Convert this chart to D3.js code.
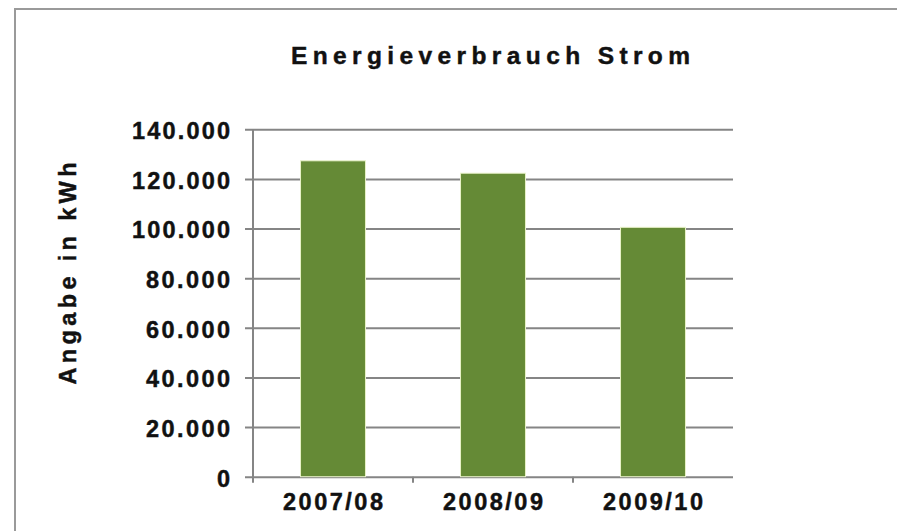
<!DOCTYPE html>
<html>
<head>
<meta charset="utf-8">
<script src="https://cdn.jsdelivr.net/npm/d3@7"></script>
<style>
  html, body { margin: 0; padding: 0; background: #fff; }
  svg { display: block; }
  text {
    font-family: "Liberation Sans", Arial, sans-serif; font-weight: bold;
    fill: #111; stroke: #111; stroke-width: 0.45px;
  }
</style>
</head>
<body>
<script>
// Energieverbrauch Strom — simple column chart, German number format.
const categories = ['2007/08', '2008/09', '2009/10'];
const values = [127300, 122300, 100500];
const yTicks = [0, 20000, 40000, 60000, 80000, 100000, 120000, 140000];
const title = 'Energieverbrauch Strom';
const yTitle = 'Angabe in kWh';

const W = 897, H = 531;
const plot = { left: 253, right: 733, top: 129.3, bottom: 476.7 };

const de = d3.formatLocale({ decimal: ',', thousands: '.', grouping: [3], currency: ['', ' €'] });
const fmt = de.format(',d');

const svg = d3.select('body').append('svg')
  .attr('width', W).attr('height', H);

// outer frame (only top and left edge are inside the picture)
svg.append('rect')
  .attr('x', 15).attr('y', 9)
  .attr('width', 1000).attr('height', 1000)
  .attr('fill', 'none')
  .attr('stroke', '#9a9a9a')
  .attr('stroke-width', 2);

const x = d3.scaleBand()
  .domain(categories)
  .range([plot.left, plot.right])
  .paddingInner(0.594)
  .paddingOuter(0.297);

const y = d3.scaleLinear()
  .domain([0, 140000])
  .range([plot.bottom, plot.top]);

// y axis with gridlines
const yAxis = d3.axisLeft(y)
  .tickValues(yTicks)
  .tickFormat(fmt)
  .tickSize(0)
  .tickPadding(23);

const gy = svg.append('g')
  .attr('transform', `translate(${plot.left},0)`)
  .call(yAxis);
gy.select('.domain').remove();
gy.selectAll('.tick line')
  .attr('x1', -8).attr('x2', plot.right - plot.left)
  .attr('stroke', '#858585')
  .attr('stroke-width', 2);
gy.selectAll('.tick text')
  .attr('dy', '0.4em')
  .style('font-size', '23.5px')
  .attr('textLength', d => fmt(d).length * 14)
  .attr('lengthAdjust', 'spacing')
  .attr('fill', '#111');

// vertical axis line
svg.append('line')
  .attr('x1', plot.left).attr('x2', plot.left)
  .attr('y1', plot.top).attr('y2', plot.bottom + 6)
  .attr('stroke', '#858585').attr('stroke-width', 2);

// bars
svg.append('g').selectAll('rect')
  .data(values)
  .join('rect')
  .attr('x', (d, i) => x(categories[i]))
  .attr('width', x.bandwidth())
  .attr('y', d => y(d))
  .attr('height', d => y(0) - y(d))
  .attr('fill', '#658a36')
  .attr('stroke', '#e8f2c8')
  .attr('stroke-width', 1);

// x axis: category boundary ticks and labels
const step = x.step();
const bounds = d3.range(1, categories.length).map(i => plot.left + i * step);
svg.append('g').selectAll('line')
  .data(bounds)
  .join('line')
  .attr('x1', d => d).attr('x2', d => d)
  .attr('y1', plot.bottom).attr('y2', plot.bottom + 6)
  .attr('stroke', '#858585').attr('stroke-width', 2);

svg.append('g').selectAll('text')
  .data(categories)
  .join('text')
  .attr('x', d => x(d) + x.bandwidth() / 2)
  .attr('y', plot.bottom + 33.5)
  .attr('text-anchor', 'middle')
  .style('font-size', '23.5px')
  .attr('textLength', 100)
  .attr('lengthAdjust', 'spacing')
  .text(d => d);

// title
svg.append('text')
  .attr('x', 490.5).attr('y', 64)
  .attr('text-anchor', 'middle')
  .style('font-size', '24.5px')
  .attr('textLength', 399)
  .attr('lengthAdjust', 'spacing')
  .text(title);

// y axis title
svg.append('text')
  .attr('transform', 'translate(76,273.5) rotate(-90)')
  .attr('text-anchor', 'middle')
  .style('font-size', '23.5px')
  .attr('textLength', 222)
  .attr('lengthAdjust', 'spacing')
  .text(yTitle);
</script>
</body>
</html>
